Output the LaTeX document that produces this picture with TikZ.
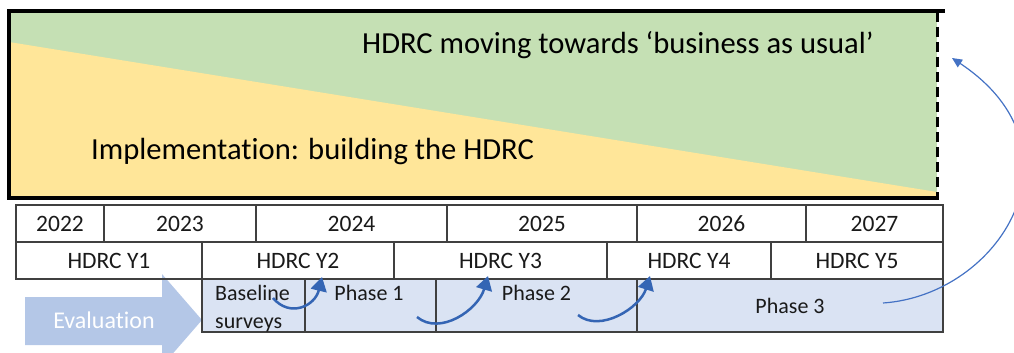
\documentclass[tikz,border=0pt]{standalone}
\usepackage{fontspec}
\setmainfont{Carlito}[Ligatures=NoCommon]
\usetikzlibrary{arrows.meta}
\definecolor{greenfill}{HTML}{C5E0B4}
\definecolor{yellowfill}{HTML}{FFE699}
\definecolor{cellfill}{HTML}{DAE3F3}
\definecolor{evalblue}{HTML}{B4C7E7}
\definecolor{loopblue}{HTML}{3465B4}
\definecolor{thinblue}{HTML}{4472C4}
\definecolor{gridgray}{HTML}{404040}
\definecolor{inktext}{HTML}{1A1A1A}
\begin{document}
\begin{tikzpicture}[x=1pt,y=-1pt,
  cell/.style={draw=gridgray, line width=1.3pt, inner sep=0pt, text=inktext,
    font=\fontsize{23.5}{27}\selectfont},
  phasecell/.style={cell, fill=cellfill, font=\fontsize{22}{26}\selectfont},
  label/.style={inner sep=0pt, text=inktext, font=\fontsize{22}{26}\selectfont},
  bigtext/.style={inner sep=0pt, text=black, font=\fontsize{30.6}{36}\selectfont},
  loop/.style={draw=loopblue, line width=2.5pt, -{Triangle[length=14pt,width=16pt]}},
  thinloop/.style={draw=thinblue, line width=1.2pt, -{Triangle[length=10pt,width=9pt]}}]
\useasboundingbox (0,0) rectangle (1014,353);

% upper panel: two shifting shares
\fill[greenfill] (9,11) rectangle (937,198);
\fill[yellowfill] (9,42) -- (937,192) -- (937,198) -- (9,198) -- cycle;
\draw[line width=3.6pt, line cap=rect] (943,11) -- (9,11) -- (9,198) -- (937,198);
\draw[line width=3pt, dash pattern=on 10pt off 5pt] (937,12) -- (937,198);
\node[bigtext, anchor=base west] (bau) at (362,53) {HDRC moving towards ‘business as usual’};
\node[bigtext, anchor=base west] (impl) at (91,159) {Implementation: building the HDRC};

% evaluation block arrow
\fill[evalblue] (25,297) -- (162,297) -- (162,274) -- (202,320) -- (162,366)
  -- (162,345) -- (25,345) -- cycle;
\node[inner sep=0pt, text=white, font=\fontsize{24}{28}\selectfont] (eval) at (104,320) {Evaluation};

% calendar years
\node[cell, minimum width=88, minimum height=37] (y22) at (60,223.5) {2022};
\node[cell, minimum width=152, minimum height=37] (y23) at (180,223.5) {2023};
\node[cell, minimum width=191, minimum height=37] (y24) at (351.5,223.5) {2024};
\node[cell, minimum width=190, minimum height=37] (y25) at (542,223.5) {2025};
\node[cell, minimum width=169, minimum height=37] (y26) at (721.5,223.5) {2026};
\node[cell, minimum width=137, minimum height=37] (y27) at (874.5,223.5) {2027};

% programme years
\node[cell, minimum width=186, minimum height=37] (h1) at (109,260.5) {HDRC Y1};
\node[cell, minimum width=192, minimum height=37] (h2) at (298,260.5) {HDRC Y2};
\node[cell, minimum width=213, minimum height=37] (h3) at (500.5,260.5) {HDRC Y3};
\node[cell, minimum width=164, minimum height=37] (h4) at (689,260.5) {HDRC Y4};
\node[cell, minimum width=172, minimum height=37] (h5) at (857,260.5) {HDRC Y5};

% evaluation phases
\node[phasecell, minimum width=103, minimum height=53] (base) at (253.5,305.5) {};
\node[phasecell, minimum width=131, minimum height=53] (p1) at (370.5,305.5) {};
\node[phasecell, minimum width=201, minimum height=53] (p2) at (536.5,305.5) {};
\node[phasecell, minimum width=306, minimum height=53] (p3) at (790,305.5) {Phase 3};
\node[label, anchor=base west] (bl1) at (215,300) {Baseline};
\node[label, anchor=base west] (bl2) at (215,328) {surveys};
\node[label, anchor=base] (p1t) at (369,300) {Phase 1};
\node[label, anchor=base] (p2t) at (536.5,300) {Phase 2};

% hand-over arrows between phases
\coordinate (a1s) at (273,298);
\coordinate (a1e) at (322,277);
\coordinate (a2s) at (417,317);
\coordinate (a2e) at (488,276);
\coordinate (a3s) at (578,315);
\coordinate (a3e) at (650,276);
\coordinate (a4s) at (883,303);
\coordinate (a4e) at (952,58);
\draw[loop] (a1s) .. controls (290,318) and (315,306) .. (a1e);
\draw[loop] (a2s) .. controls (440,336) and (478,310) .. (a2e);
\draw[loop] (a3s) .. controls (600,333) and (640,308) .. (a3e);
\draw[thinloop] (a4s) .. controls (1000,295) and (1090,150) .. (a4e);
\end{tikzpicture}
\end{document}
